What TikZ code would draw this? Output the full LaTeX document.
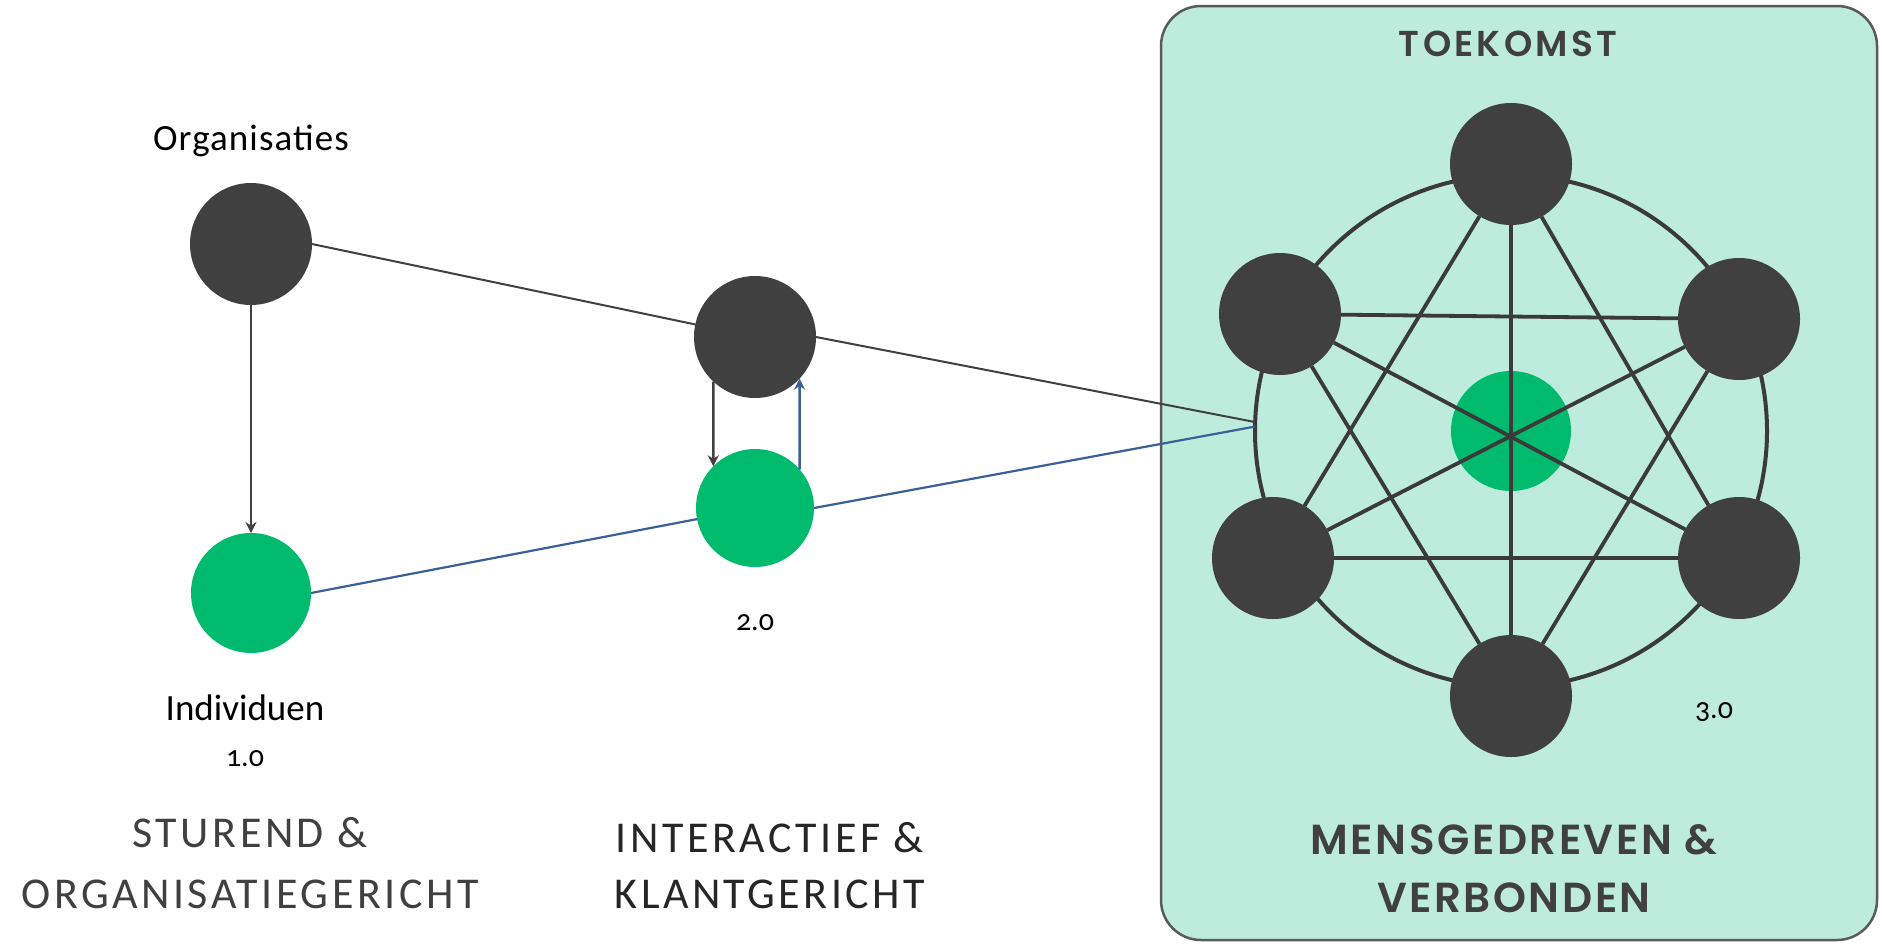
\documentclass[tikz,border=0pt]{standalone}
\usepackage{fontspec}
\setmainfont{Carlito}
\newfontfamily\gothic{Poppins SemiBold}
\usetikzlibrary{arrows.meta}
\definecolor{dk}{HTML}{404040}
\definecolor{gr}{HTML}{00BB6D}
\definecolor{mint}{HTML}{BEECDC}
\definecolor{bl}{HTML}{3A6098}
\definecolor{framec}{HTML}{5A5A5A}
\begin{document}
\begin{tikzpicture}[x=1pt,y=-1pt,
  dot/.style={circle,fill=dk,minimum size=122pt,inner sep=0pt,outer sep=0pt},
  gdot/.style={circle,fill=gr,minimum size=120pt,inner sep=0pt,outer sep=0pt},
  txt/.style={inner sep=0pt,anchor=base},
  conn/.style={dk,line width=2pt},
  bconn/.style={bl,line width=2.2pt},
  tip/.style={-{Stealth[length=11pt,width=11pt]}},
  star/.style={draw=dk!90!black,line width=3.8pt},
  small/.style={font=\fontsize{37}{44}\selectfont},
  num/.style={font=\fontsize{30}{36}\selectfont\addfontfeatures{Numbers=OldStyle}},
  big/.style={font=\fontsize{44}{52}\selectfont\addfontfeatures{LetterSpace=8}, text=dk},
  gbig/.style={font=\gothic\fontsize{42}{50}\selectfont\addfontfeatures{LetterSpace=6}, text=dk}
]
\useasboundingbox (0,0) rectangle (1882,943);
\fill[white] (0,0) rectangle (1882,943);
% panel
\draw[framec, line width=2.5pt, fill=mint, rounded corners=40pt] (1161,6) rectangle (1877,940);

% left column
\node[dot] (o1) at (251,244) {};
\node[gdot] (g1) at (251,593) {};
\node[txt,small,font=\fontsize{37}{44}\selectfont\addfontfeatures{LetterSpace=3}] (torg) at (251,150) {Organisaties};
\node[txt,small] (tind) at (245,720) {Individuen};
\node[txt,num] (t1) at (245,766) {1.0};
\node[txt,big] (tst1) at (250,847) {STUREND \&};
\node[txt,big] (tst2) at (250,908) {ORGANISATIEGERICHT};
\draw[conn,tip] (o1) -- (g1);

% middle column
\node[dot] (o2) at (755,337) {};
\node[gdot,minimum size=118pt] (g2) at (755,508) {};
\node[txt,num] (t2) at (755,630) {2.0};
\node[txt,big,text=black!85] (tin1) at (770,852) {INTERACTIEF \&};
\node[txt,big,text=black!85] (tin2) at (770,908) {KLANTGERICHT};
\draw[conn,line width=2.5pt,tip] (o2.-133.5) -- (g2.135.4);
\draw[bconn,line width=2.5pt,tip] (g2.41.8) -- (o2.-43.8);

% right panel network
\node[circle,draw=dk!90!black,line width=4pt,minimum size=512pt,inner sep=0pt,outer sep=0pt] (ring) at (1511,431) {};
\coordinate (joinA) at (ring.178.2);
\coordinate (joinB) at (ring.179.1);
\node[gdot] (c) at (1511,431) {};
\node[dot] (nt) at (1511,164) {};
\node[dot] (nul) at (1280,314) {};
\node[dot] (nur) at (1739,319) {};
\node[dot] (nll) at (1273,558) {};
\node[dot] (nlr) at (1739,558) {};
\node[dot] (nb) at (1511,696) {};
\draw[star] (nt) -- (nb);
\draw[star] (nt) -- (nll);
\draw[star] (nt) -- (nlr);
\draw[star] (nul) -- (nur);
\draw[star] (nul) -- (nlr);
\draw[star] (nul) -- (nb);
\draw[star] (nur) -- (nll);
\draw[star] (nur) -- (nb);
\draw[star] (nll) -- (nlr);

% long connectors
\draw[conn] (o1.east) -- (o2);
\draw[conn] (o2.east) -- (joinA);
\draw[bconn] (g1.east) -- (g2);
\draw[bconn] (g2.east) -- (joinB);

\node[txt,num] (t3) at (1714,718) {3.0};
\node[txt,font=\gothic\fontsize{36}{42}\selectfont\addfontfeatures{LetterSpace=9},text=dk] (ttoek) at (1508,56) {TOEKOMST};
\node[txt,gbig] (tm1) at (1514,854) {MENSGEDREVEN \&};
\node[txt,gbig] (tm2) at (1514,912) {VERBONDEN};
\end{tikzpicture}
\end{document}
